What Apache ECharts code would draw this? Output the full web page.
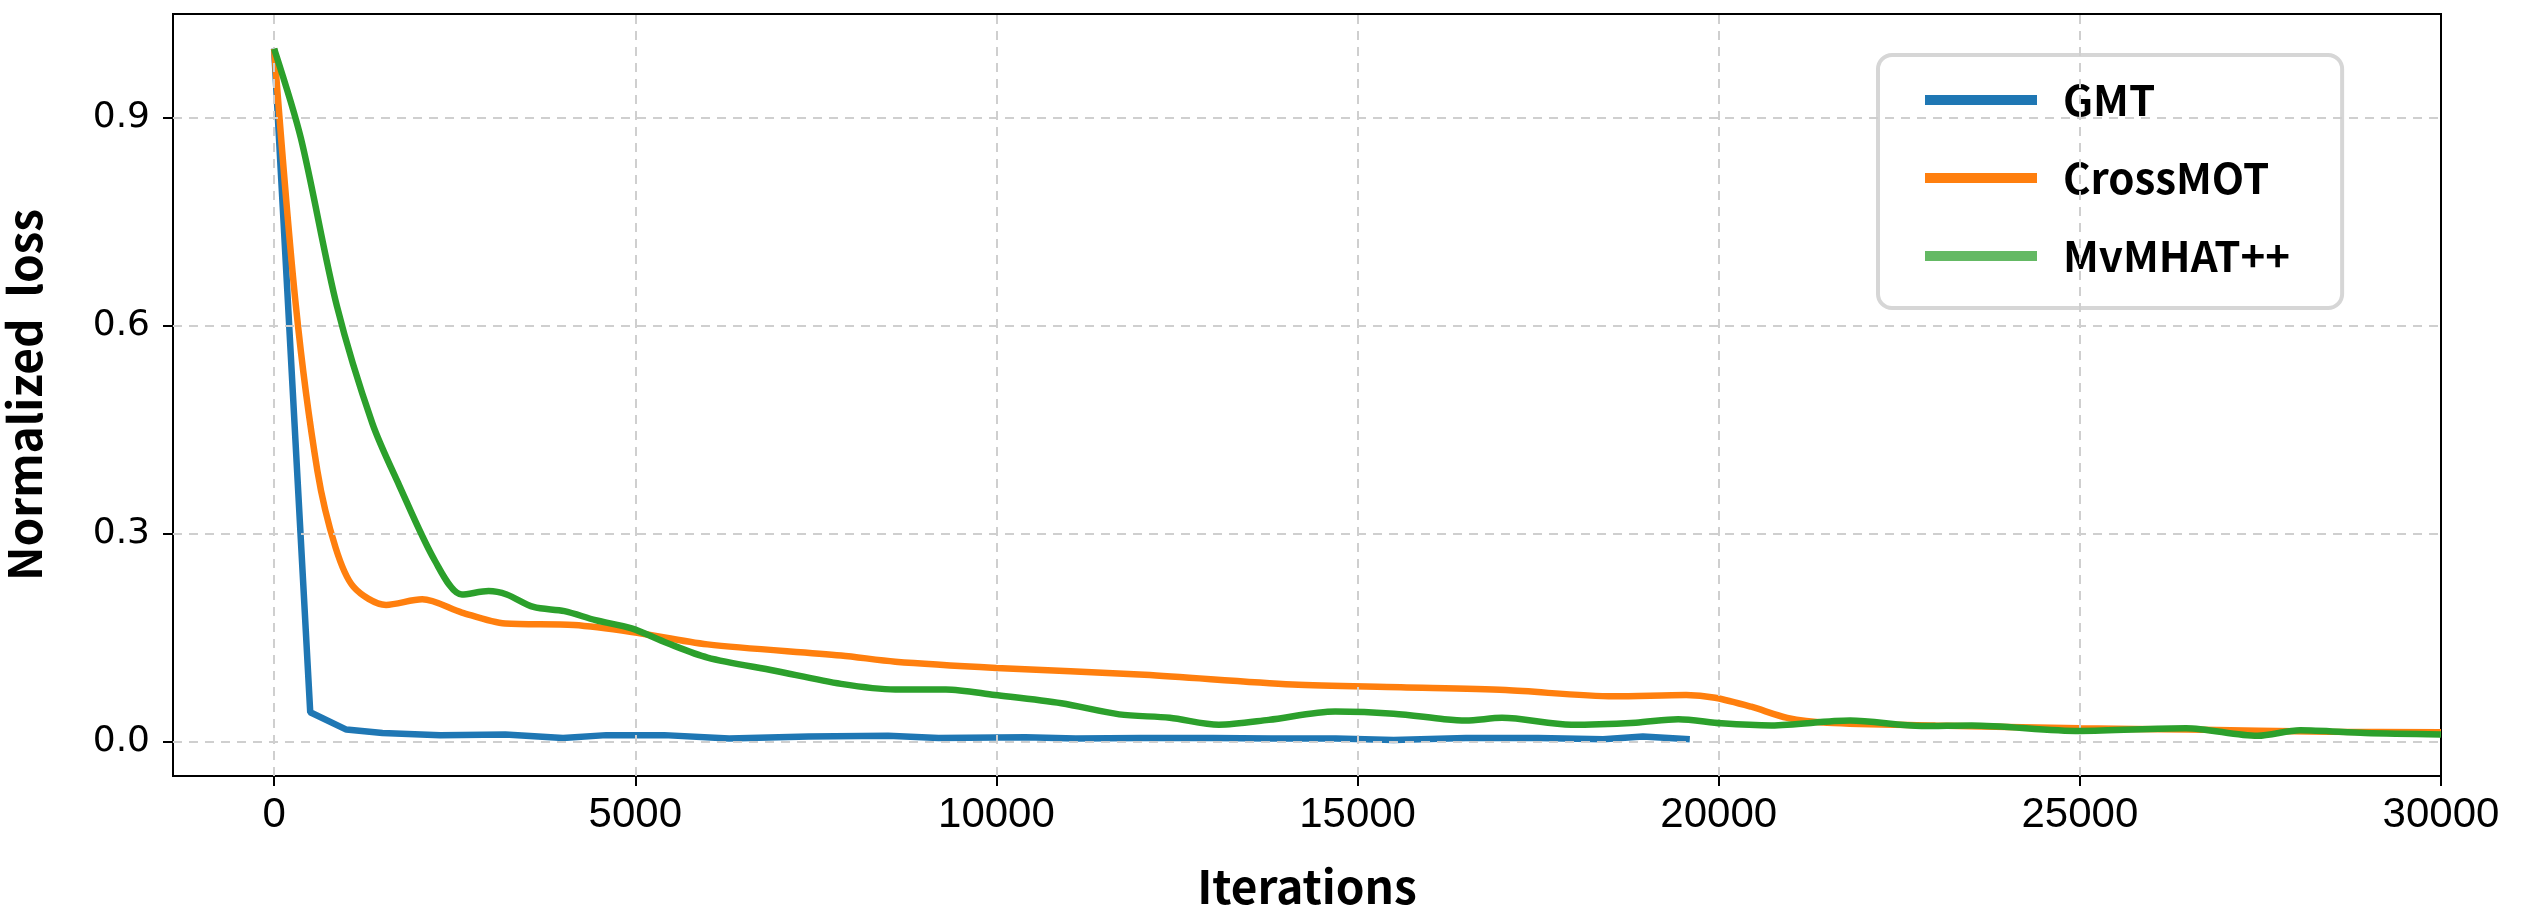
<!DOCTYPE html>
<html>
<head>
<meta charset="utf-8">
<script src="https://cdn.jsdelivr.net/npm/echarts@6/dist/echarts.min.js"></script>
<style>
  html, body { margin: 0; padding: 0; background: #fff; }
  #chart { width: 2521px; height: 913px; }
</style>
</head>
<body>
<div id="chart"></div>
<script>
// tick values
var xTicks = [0, 5000, 10000, 15000, 20000, 25000, 30000];
var yTicks = [0, 0.3, 0.6, 0.9];

// GMT
var gmtIter = [0, 500, 1000, 1500, 2300, 3200, 4000, 4600, 5400, 6300, 7400, 8500, 9200, 10400, 11100, 12000, 13000, 13800, 14700, 15500, 16500, 17500, 18400, 18950, 19600];
var gmtLoss = [1.0, 0.042, 0.017, 0.012, 0.009, 0.010, 0.005, 0.009, 0.009, 0.004, 0.007, 0.008, 0.005, 0.006, 0.004, 0.005, 0.005, 0.004, 0.004, 0.002, 0.005, 0.005, 0.003, 0.007, 0.003];

// CrossMOT
var crossIter = [0, 300, 600, 850, 1100, 1550, 2050, 2600, 3200, 4150, 4950, 6000, 7850, 8600, 10000, 12050, 14100, 15600, 17050, 18550, 19550, 19950, 20450, 20950, 21500, 23000, 25000, 26500, 28450, 30000];
var crossLoss = [1.0, 0.63, 0.39, 0.28, 0.223, 0.197, 0.205, 0.186, 0.170, 0.168, 0.158, 0.140, 0.124, 0.115, 0.106, 0.096, 0.082, 0.078, 0.074, 0.065, 0.067, 0.063, 0.050, 0.034, 0.027, 0.023, 0.019, 0.017, 0.014, 0.013];

// MvMHAT++
var mvIter = [0, 370, 870, 1360, 1730, 2230, 2600, 2970, 3220, 3590, 4020, 4450, 4950, 5440, 6000, 6930, 7850, 8600, 9300, 9980, 10900, 11700, 12400, 13080, 13770, 14690, 15500, 16200, 16500, 17000, 17960, 18850, 19440, 20040, 20730, 21820, 22810, 23500, 25000, 26470, 27460, 28050, 28950, 30000];
var mvLoss = [1.0, 0.871, 0.628, 0.459, 0.370, 0.260, 0.212, 0.217, 0.212, 0.194, 0.188, 0.175, 0.163, 0.142, 0.121, 0.102, 0.083, 0.075, 0.075, 0.067, 0.055, 0.039, 0.034, 0.024, 0.031, 0.043, 0.040, 0.032, 0.030, 0.034, 0.024, 0.027, 0.032, 0.026, 0.023, 0.030, 0.022, 0.023, 0.015, 0.019, 0.008, 0.016, 0.012, 0.010];

function pairs(xs, ys) {
    var out = [];
    for (let i = 0; i < xs.length; i++) out.push([xs[i], ys[i]]);
    return out;
}

var boldFont = "'Noto Sans CJK SC', 'Noto Sans', sans-serif";

// grid lines drawn as mark lines so they sit on the tick values
var gridMarks = [];
yTicks.forEach(function(v) { gridMarks.push({ yAxis: v }); });
xTicks.slice(0, -1).forEach(function(v) { gridMarks.push({ xAxis: v }); });

var option = {
    animation: false,
    backgroundColor: '#fff',
    grid: {
        left: 173, right: 80, top: 14, bottom: 137,
        outerBoundsMode: 'none', containLabel: false,
        show: true, borderColor: '#000', borderWidth: 2
    },
    legend: {
        orient: 'vertical',
        left: 1878, top: 55,
        padding: [24, 52, 31, 47],
        borderColor: '#d6d6d6', borderWidth: 4, borderRadius: 14,
        backgroundColor: '#fff',
        itemWidth: 112, itemHeight: 10, itemGap: 36,
        icon: 'rect',
        textStyle: {
            fontFamily: boldFont, fontWeight: 'bold', fontSize: 42,
            color: '#000', lineHeight: 42, padding: [0, 0, 0, 21]
        },
        data: [
            { name: 'GMT', itemStyle: { color: '#1f77b4' } },
            { name: 'CrossMOT', itemStyle: { color: '#ff7f0e' } },
            { name: 'MvMHAT++', itemStyle: { color: '#64b964' } }
        ]
    },
    xAxis: {
        type: 'value', min: -1400, max: 30000,
        name: 'Iterations', nameLocation: 'middle', nameGap: 88,
        nameTextStyle: { fontFamily: boldFont, fontWeight: 'bold', fontSize: 46, color: '#000' },
        axisLine: { onZero: false, lineStyle: { color: '#000', width: 2 } },
        axisTick: { length: 10, customValues: xTicks, lineStyle: { color: '#000', width: 2 } },
        axisLabel: {
            customValues: xTicks, margin: 18, fontSize: 42, color: '#000',
            fontFamily: "'Liberation Sans', Arial, sans-serif",
            formatter: function(v) { return String(v); }
        },
        splitLine: { show: false }
    },
    yAxis: {
        type: 'value', min: -0.05, max: 1.05,
        name: 'Normalized  loss', nameLocation: 'middle', nameGap: 125,
        nameTextStyle: { fontFamily: boldFont, fontWeight: 'bold', fontSize: 46, color: '#000' },
        axisLine: { show: true, onZero: false, lineStyle: { color: '#000', width: 2 } },
        axisTick: { show: true, length: 10, customValues: yTicks, lineStyle: { color: '#000', width: 2 } },
        axisLabel: {
            customValues: yTicks, margin: 23, fontSize: 36, color: '#000',
            fontFamily: "'DejaVu Sans', sans-serif",
            formatter: function(v) { return v.toFixed(1); }
        },
        splitLine: { show: false }
    },
    series: [
        {
            name: 'grid', type: 'line', z: 1, symbol: 'none',
            data: [[0, 0]], lineStyle: { opacity: 0 },
            markLine: {
                silent: true, symbol: ['none', 'none'], animation: false,
                label: { show: false },
                lineStyle: { type: [9, 7], color: '#cfcfcf', width: 2 },
                data: gridMarks
            }
        },
        {
            name: 'GMT', type: 'line', z: 3, symbol: 'none', smooth: false,
            data: pairs(gmtIter, gmtLoss),
            lineStyle: { color: '#1f77b4', width: 6.5 }, itemStyle: { color: '#1f77b4' }
        },
        {
            name: 'CrossMOT', type: 'line', z: 4, symbol: 'none', smooth: 0.3,
            data: pairs(crossIter, crossLoss),
            lineStyle: { color: '#ff7f0e', width: 6.5 }, itemStyle: { color: '#ff7f0e' }
        },
        {
            name: 'MvMHAT++', type: 'line', z: 5, symbol: 'none', smooth: 0.3,
            data: pairs(mvIter, mvLoss),
            lineStyle: { color: '#2ca02c', width: 6.5 }, itemStyle: { color: '#2ca02c' }
        }
    ]
};

var myChart = echarts.init(document.getElementById('chart'));
myChart.setOption(option);
</script>
</body>
</html>
